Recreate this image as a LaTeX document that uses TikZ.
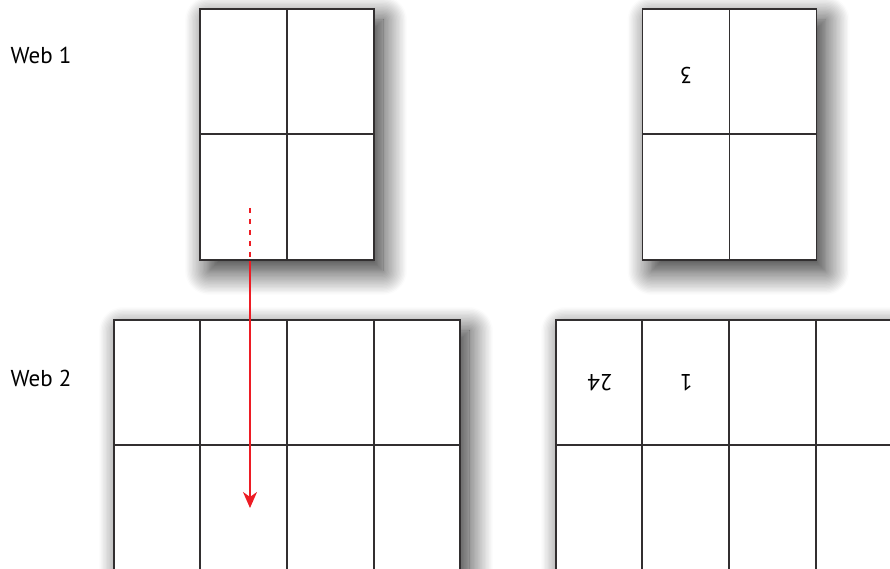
\documentclass[tikz,border=0pt]{standalone}
\usepackage{fontspec}
\setmainfont{PT Sans}
\usetikzlibrary{positioning, calc, arrows.meta, shadows.blur}
\definecolor{sheetline}{RGB}{50,47,48}
\definecolor{foldred}{RGB}{237,28,36}

\begin{document}
\begin{tikzpicture}[x=1pt, y=1pt,
    sheet/.style={draw=sheetline, line width=1.7pt, fill=white, inner sep=0pt,
        blur shadow={shadow xshift=9pt, shadow yshift=-11pt,
            shadow blur radius=24pt, shadow blur steps=18, shadow opacity=85}},
    fold/.style={draw=sheetline, line width=1.9pt},
    crossfold/.style={draw=sheetline, line width=2pt},
    weblabel/.style={font=\fontsize{23}{27}\selectfont, anchor=west},
    pagenum/.style={font=\fontsize{23}{27}\selectfont, rotate=180}]
    \useasboundingbox (0,0) rectangle (890,569);
    \clip (0,0) rectangle (890,569);

    % Web 1 sheets
    \node[sheet, minimum width=174pt, minimum height=251pt] (webAleft) at (287,434.5) {};
    \node[sheet, minimum width=174pt, minimum height=251pt] (webAright) at (729.5,434.5) {};
    \foreach \s in {webAleft, webAright} {
        \draw[fold] (\s.north) -- (\s.south);
        \draw[crossfold] (\s.west) -- (\s.east);
    }

    % Web 2 sheets (run off the page)
    \node[sheet, minimum width=346pt, minimum height=251pt] (webBleft) at (287,123.5) {};
    \node[sheet, minimum width=346pt, minimum height=251pt] (webBright) at (729,123.5) {};
    \foreach \s in {webBleft, webBright} {
        \foreach \f in {0.25, 0.5, 0.75}
            \draw[fold] ($(\s.north west)!\f!(\s.north east)$) -- ($(\s.south west)!\f!(\s.south east)$);
        \draw[crossfold] (\s.west) -- (\s.east);
    }

    % Labels
    \node[weblabel] (webone) at (7,514) {Web 1};
    \node[weblabel] (webtwo) at (7,191) {Web 2};

    % Page numbers (upside down)
    \node[pagenum] (pthree) at (686,494) {3};
    \node[pagenum] (ptwentyfour) at (600,186) {24};
    \node[pagenum] (pone) at (686,186) {1};

    % Red arrow from web 1 down into web 2
    \coordinate (start) at (250,361);
    \coordinate (edge) at (start |- webAleft.south);
    \coordinate (tip) at (250,61);
    \draw[foldred, line width=1.8pt, dash pattern=on 5pt off 6pt] (start) -- (edge);
    \draw[foldred, line width=1.8pt, -{Stealth[length=16pt, width=14pt, inset=5pt]}] (edge) -- (tip);
\end{tikzpicture}
\end{document}
